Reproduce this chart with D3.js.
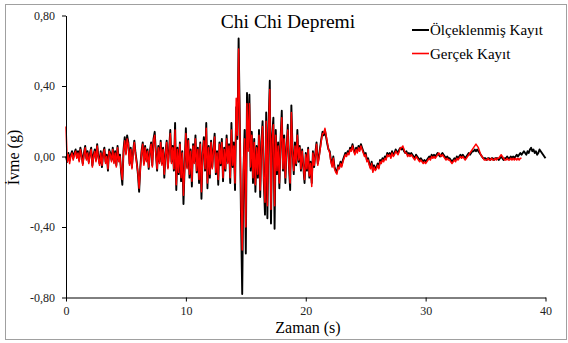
<!DOCTYPE html>
<html>
<head>
<meta charset="utf-8">
<script src="https://cdn.jsdelivr.net/npm/d3@7"></script>
<style>
  html, body { margin: 0; padding: 0; background: #fff; }
  svg { display: block; }
  svg text { font-family: "Liberation Serif", "Times New Roman", serif; }
</style>
</head>
<body>
<svg id="chart" width="568" height="343"></svg>
<script>
// Sampling step of both acceleration records (s)
const sampleStep = 0.1;

// Scaled record, acceleration in 0.01 g, one value every 0.1 s from 0 to 40 s
const scaledRecord = [
  0, -3, 2, -2, 1, 3, -1, 2, 4, 0,
  3, -2, 5, 1, -4, 2, 6, -1, 3, -3,
  2, 5, -5, 1, 4, -2, 7, 0, -4, 3,
  -6, 2, 5, -3, 1, -8, 4, 2, -2, 5,
  -3, 3, -5, 6, -2, 1, -9, -16, 4, 11,
  2, 12, 8, -4, 5, -6, 3, 9, 2, -3,
  -10, -20, -6, 3, 8, -4, 6, -2, 4, -7,
  3, 8, -5, 10, 14, 2, -8, 6, -3, 9,
  -4, 5, -12, 2, 9, -6, 4, 15, -3, 6,
  -8, 19, -19, 5, -10, 8, -14, 3, -27, -5,
  16, -6, 10, -12, 4, -17, 7, -3, 12, -9,
  5, -15, 8, -24, 2, 11, -8, 19, -18, 6,
  -12, 9, -6, 4, 13, -10, 3, -16, 8, -5,
  10, -14, 5, -8, 12, -3, 7, -15, 19, -6,
  8, -19, 28, 10, 67, 20, -35, -78, -10, 15,
  -55, 36, 5, 35, -8, 14, -15, 10, -20, 6,
  -12, 15, -23, 8, 20, -14, -33, 25, -35, 18,
  43, -38, 12, 22, -41, 15, -10, 8, -18, 10,
  26, -8, 12, -15, 5, 18, -6, -19, 29, 3,
  -10, 8, -5, 15, -3, 6, -8, 4, -6, -15,
  2, -8, 5, -12, -3, -15, 3, -6, 2, 8,
  -4, 0, 5, 10, 14, 12, 15, 11, 7, 4,
  3, -2, -5, 0, -6, -8, -9, -5, -6, -3,
  -5, -2, 0, 2, 1, 3, 2, 5, 4, 7,
  4, 2, 5, 3, 6, 4, 7, 5, 3, 1,
  2, -2, -1, -4, -6, -3, -8, -5, -7, -6,
  -4, -6, -2, -3, -1, -2, 0, -1, 2, 1,
  2, 0, 3, 1, 2, 4, 3, 2, 4, 5,
  4, 5, 3, 2, 3, 1, 2, 1, 2, 1,
  0, -1, 1, 0, -1, -2, -1, -2, -3, -2,
  -3, -2, -1, 0, -1, 1, 0, 1, 0, 1,
  2, 1, 0, 1, 2, 1, 0, -1, 0, -1,
  -1, -2, -3, -2, -1, -2, 0, -1, 0, 1,
  0, 1, 0, -1, 0, 1, 2, 1, 2, 3,
  3, 4, 3, 4, 3, 2, 1, 0, -1, -1,
  -1, -2, -1, -1, -2, -1, -1, -2, -1, -1,
  -1, -2, -1, 0, -1, -2, -1, -1, 0, -1,
  -1, 0, -1, 0, -1, 0, 1, 0, 1, 2,
  1, 2, 3, 2, 1, 3, 2, 4, 5, 3,
  4, 2, 3, 1, 2, 4, 3, 2, 1, 0,
  -1
];

// Recorded (unscaled) acceleration in 0.01 g, one value every 0.1 s from 0 to 38 s
const realRecord = [
  17, -3, 1, -4, 0, 2, -2, 1, 3, -1,
  2, -3, 4, 0, -5, 1, 5, -2, 2, -4,
  1, 4, -6, 0, 3, -3, 6, -1, -5, 2,
  -5, 1, 4, -4, 0, -7, 3, 1, -3, 4,
  -4, 2, -6, 5, -3, 0, -8, -13, 3, 9,
  1, 10, 7, -5, 4, -7, 2, 8, 1, -4,
  -9, -18, -7, 2, 7, -5, 5, -3, 3, -6,
  2, 7, -6, 9, 12, 1, -7, 5, -4, 8,
  -5, 4, -10, 1, 8, -7, 3, 13, -4, 5,
  -7, 15, -16, 4, -9, 7, -12, 2, -22, -6,
  13, -7, 9, -10, 3, -14, 6, -4, 10, -8,
  4, -13, 7, -20, 1, 9, -7, 16, -15, 5,
  -10, 8, -7, 3, 11, -9, 2, -13, 7, -4,
  8, -12, 4, -7, 10, -4, 6, -12, 15, -5,
  6, -15, 33, 12, 61, 15, -25, -53, -8, 10,
  -40, 30, 3, 30, -6, 12, -12, 8, -16, 5,
  -10, 12, -19, 6, 17, -12, -26, 20, -28, 15,
  38, -30, 10, 18, -28, 12, -8, 6, -15, 8,
  22, -7, 10, -12, 4, 15, -5, -15, 25, 2,
  -8, 6, -4, 12, -2, 5, -7, 3, -5, -13,
  1, -7, 4, -11, -4, -17, 2, -5, 1, 7,
  -5, -1, 4, 9, 13, 13, 16, 12, 8, 4,
  2, -3, -6, -1, -7, -9, -10, -6, -7, -4,
  -6, -3, -1, 1, 0, 2, 1, 4, 3, 6,
  3, 1, 4, 2, 5, 3, 6, 4, 2, 0,
  1, -3, -2, -5, -7, -4, -9, -6, -8, -7,
  -5, -7, -3, -4, -2, -3, -1, -2, 1, 0,
  1, -1, 2, 0, 1, 3, 2, 1, 3, 5,
  5, 6, 4, 2, 2, 0, 1, 0, 1, 0,
  -1, -2, 0, -1, -2, -3, -2, -3, -4, -3,
  -4, -3, -2, -1, -2, 0, -1, 0, -1, 0,
  1, 2, 1, 0, 1, 0, -1, -2, -1, -2,
  -2, -3, -4, -3, -2, -3, -1, -2, -1, 0,
  -1, 0, -1, -2, -1, 0, 1, 2, 3, 4,
  5, 6, 7, 6, 5, 3, 1, 0, -1, -2,
  -2, -2, -1, -2, -2, -1, -2, -2, -1, -2,
  -1, -1, 0, 1, 0, -1, -2, -2, -1, -2,
  -2, -1, -2, -1, -2, -1, -2, -1, -2, -1,
  -1
];

const seriesNames = ["Ölçeklenmiş Kayıt", "Gerçek Kayıt"];
const seriesColors = ["#000000", "#ff0000"];
const xTicks = [0, 10, 20, 30, 40];
const yTicks = [-0.8, -0.4, 0, 0.4, 0.8];
const chartTitle = "Chi Chi Depremi";
const xTitle = "Zaman (s)";
const yTitle = "İvme (g)";

const serif = "'Liberation Serif', 'Times New Roman', serif";
const svg = d3.select("#chart");

// Outer chart frame
svg.append("rect")
  .attr("x", 5.5).attr("y", 4.5)
  .attr("width", 561).attr("height", 335)
  .attr("fill", "#fff").attr("stroke", "#a0a0a0").attr("stroke-width", 1);

const x = d3.scaleLinear().domain([0, 40]).range([66, 545.5]);
const y = d3.scaleLinear().domain([-0.8, 0.8]).range([297.5, 15.5]);

const trLocale = d3.formatLocale({ decimal: ",", thousands: ".", grouping: [3], currency: ["", ""], minus: "-" });
const fmtY = trLocale.format(".2f");

// Series as (time, acceleration) points
const toPoints = arr => arr.map((v, i) => ({ t: i * sampleStep, a: v / 100 }));
const series = [toPoints(scaledRecord), toPoints(realRecord)];

const line = d3.line().x(d => x(d.t)).y(d => y(d.a));

const plot = svg.append("g");
series.forEach((pts, k) => {
  plot.append("path")
    .datum(pts)
    .attr("fill", "none")
    .attr("stroke", seriesColors[k])
    .attr("stroke-width", k === 0 ? 1.9 : 1.5)
    .attr("stroke-linejoin", "round")
    .attr("d", line);
});

// Axes
const yAxis = svg.append("g")
  .attr("transform", "translate(66,0)")
  .call(d3.axisLeft(y).tickValues(yTicks).tickFormat(fmtY).tickSize(4).tickSizeOuter(0).tickPadding(7));
const xAxis = svg.append("g")
  .attr("transform", `translate(0,${y(-0.8)})`)
  .call(d3.axisBottom(x).tickValues(xTicks).tickFormat(d3.format("d")).tickSize(4).tickSizeOuter(0).tickPadding(5));

[yAxis, xAxis].forEach(g => {
  g.attr("font-family", serif).attr("font-size", 12);
  g.selectAll("path.domain").attr("stroke", "#000").attr("stroke-width", 1);
  g.selectAll(".tick line").attr("stroke", "#000");
  g.selectAll(".tick text")
    .attr("fill", "#222")
    .attr("font-family", serif)
    .style("font-family", serif)
    .style("font-size", "12px");
});

// Titles
svg.append("text")
  .attr("x", 288).attr("y", 28)
  .attr("text-anchor", "middle")
  .style("font-family", serif)
  .style("font-size", "19.5px")
  .attr("fill", "#000")
  .text(chartTitle);

svg.append("text")
  .attr("x", 308).attr("y", 333)
  .attr("text-anchor", "middle")
  .style("font-family", serif)
  .style("font-size", "16px")
  .attr("fill", "#000")
  .text(xTitle);

svg.append("text")
  .attr("transform", "translate(19,157.5) rotate(-90)")
  .attr("text-anchor", "middle")
  .style("font-family", serif)
  .style("font-size", "16px")
  .attr("fill", "#000")
  .text(yTitle);

// Legend
const legend = svg.append("g");
seriesNames.forEach((name, k) => {
  const ly = 30 + k * 23.5;
  legend.append("line")
    .attr("x1", 412).attr("x2", 429)
    .attr("y1", ly).attr("y2", ly)
    .attr("stroke", seriesColors[k])
    .attr("stroke-width", k === 0 ? 2 : 1.6);
  legend.append("text")
    .attr("x", 430).attr("y", ly + 5)
    .style("font-family", serif)
    .style("font-size", "15px")
    .attr("fill", "#000")
    .text(name);
});
</script>
</body>
</html>
